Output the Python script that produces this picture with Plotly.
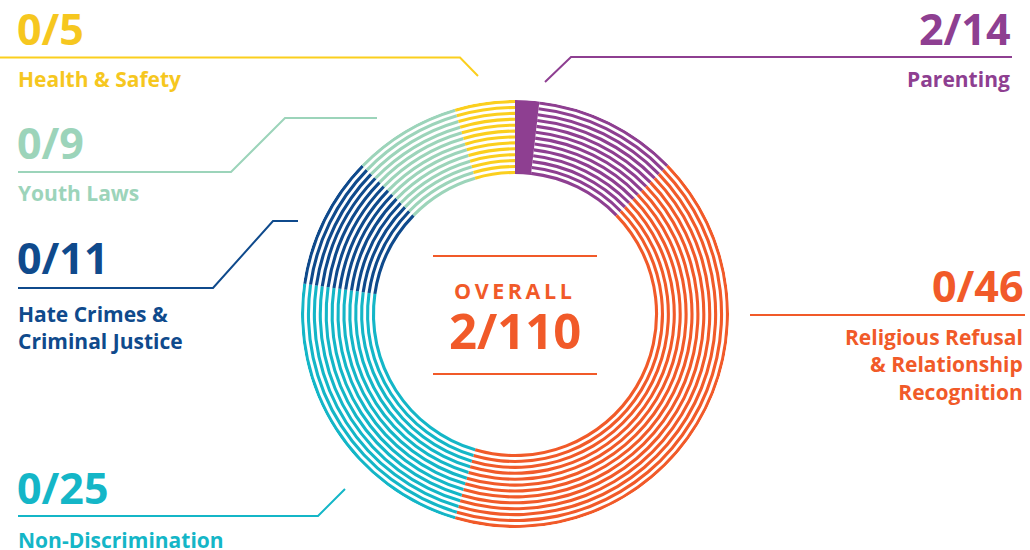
import plotly.graph_objects as go

# ---------------- data ----------------
categories = ["Parenting",
              "Religious Refusal<br>& Relationship<br>Recognition",
              "Non-Discrimination",
              "Hate Crimes &<br>Criminal Justice",
              "Youth Laws",
              "Health & Safety"]
passed = [2, 0, 0, 0, 0, 0]
totals = [14, 46, 25, 11, 9, 5]
overall_label = "OVERALL"

# ---------------- style ----------------
colors = ["#8E3F91", "#F15A29", "#14B6C7", "#0F4A8C", "#9CD4BA", "#FBCF1E"]
text_colors = ["#8E3F91", "#F15A29", "#14B6C7", "#0F4A8C", "#9CD4BA", "#F6C71F"]
W, H = 1030, 550
CX, CY = 515, 314
INNER, OUTER = 140, 214
N_STRIPES = 13
STRIPE_W = 3.1
PITCH = (OUTER - INNER - STRIPE_W) / (N_STRIPES - 1)
FONT = "Open Sans"

total_all = sum(totals)
passed_all = sum(passed)
unit = 360.0 / total_all

fig = go.Figure()
cum = 0
for cat, p, t, col in zip(categories, passed, totals, colors):
    # solid (passed) part
    if p > 0:
        fig.add_trace(go.Barpolar(
            theta=[(cum + p / 2) * unit], width=[p * unit],
            base=[INNER], r=[OUTER - INNER],
            marker=dict(color=col, line=dict(width=0)),
            hoverinfo="skip", showlegend=False))
    rest = t - p
    fig.add_trace(go.Barpolar(
        theta=[(cum + p + rest / 2) * unit] * N_STRIPES,
        width=[rest * unit] * N_STRIPES,
        base=[INNER + k * PITCH for k in range(N_STRIPES)],
        r=[STRIPE_W] * N_STRIPES,
        marker=dict(color=col, line=dict(width=0)),
        hoverinfo="skip", showlegend=False))
    cum += t

fig.update_layout(
    width=W, height=H, autosize=False,
    margin=dict(l=0, r=0, t=0, b=0),
    paper_bgcolor="white", plot_bgcolor="white",
    polar=dict(
        domain=dict(x=[(CX - OUTER) / W, (CX + OUTER) / W],
                    y=[1 - (CY + OUTER) / H, 1 - (CY - OUTER) / H]),
        bgcolor="rgba(0,0,0,0)",
        barmode="overlay",
        radialaxis=dict(range=[0, OUTER], visible=False, showgrid=False),
        angularaxis=dict(direction="clockwise", rotation=90, visible=False,
                         showgrid=False, showline=False, ticks=""),
    ),
)


def px(x, y):
    return x / W, 1 - y / H


def add_path(points, color, width=2):
    path = ""
    for i, (x, y) in enumerate(points):
        xx, yy = px(x, y)
        path += ("M" if i == 0 else " L") + f"{xx:.5f},{yy:.5f}"
    fig.add_shape(type="path", path=path, xref="paper", yref="paper",
                  line=dict(color=color, width=width))


def add_text(text, x, y, color, size, anchor):
    xx, yy = px(x, y)
    fig.add_annotation(text=text, x=xx, y=yy, xref="paper", yref="paper",
                       xanchor=anchor, yanchor="middle", align=anchor,
                       showarrow=False, borderpad=0,
                       font=dict(family=FONT, size=size, color=color, weight=700))


# label layout: (number cap-center y, number x, anchor, name y, leader line)
layout_info = [
    (28.5, 1012, "right", 79, [(545, 82), (571, 57), (1012, 57)]),
    (285, 1025, "right", 364, [(750, 315), (1025, 315)]),
    (487.5, 16, "left", 539.5, [(18, 516), (318, 516), (345, 489)]),
    (257.5, 16, "left", 327, [(18, 288), (213, 288), (273, 221), (298, 221)]),
    (142, 16, "left", 192.5, [(18, 172), (231, 172), (285, 118), (377, 118)]),
    (28.5, 16, "left", 79.3, [(0, 57.5), (460, 57.5), (478, 76)]),
]

for cat, p, t, tc, col, info in zip(categories, passed, totals, text_colors, colors, layout_info):
    ny, nx, anchor, ly, pts = info
    add_path(pts, col, 2)
    add_text(f"{p}/{t}", nx, ny, tc, 43, anchor)
    lx = nx - 1 if anchor == "right" else nx + 1
    add_text(cat, lx, ly, tc, 21, anchor)

# center
orange = colors[1]
add_path([(433, 256), (597, 256)], orange, 2)
add_path([(433, 374), (597, 374)], orange, 2)
add_text("\u2009".join(overall_label), 513, 290.5, orange, 21.5, "center")
add_text(f"{passed_all}/{total_all}", 514.5, 330, orange, 49, "center")

fig.write_html("out.html",
               config={"displayModeBar": False},
               post_script="document.body.style.margin='0';document.body.style.padding='0';")
